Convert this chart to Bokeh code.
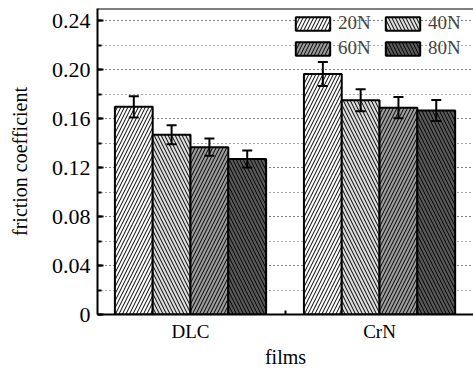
from bokeh.plotting import figure
from bokeh.models import (ColumnDataSource, Range1d, SingleIntervalTicker, FixedTicker,
                          PrintfTickFormatter, Whisker, TeeHead, Legend, LegendItem, Span)
from bokeh.embed import file_html
from bokeh.resources import INLINE

films = ["DLC", "CrN"]
loads = ["20N", "40N", "60N", "80N"]
dlc_mean = [0.1697, 0.1468, 0.1367, 0.1270]
crn_mean = [0.1965, 0.1750, 0.1690, 0.1667]
dlc_err = [0.0087, 0.0078, 0.0071, 0.0070]
crn_err = [0.0098, 0.0090, 0.0087, 0.0086]

fills = ["#ffffff", "#dcdcdc", "#9c9c9c", "#5a5a5a"]
hatches = ["right_diagonal_line", "left_diagonal_line", "right_diagonal_line", "left_diagonal_line"]
offsets = [-0.3, -0.1, 0.1, 0.3]
bar_w = 0.2
FONT = "Liberation Serif"
Y_TOP = 0.25
X_START, X_END = 0.508, 2.497

p = figure(width=473, height=370, output_backend="svg", toolbar_location=None,
           x_range=Range1d(X_START, X_END), y_range=Range1d(0, Y_TOP),
           min_border_left=97, min_border_right=0, min_border_top=8, min_border_bottom=52)

p.border_fill_color = "white"
p.background_fill_color = "white"
p.outline_line_color = None
p.add_layout(Span(location=Y_TOP, dimension="width", line_color="black", line_width=2))
# invisible helpers spanning the full frame (keep the frame fully repainted)
p.add_layout(Span(location=X_END, dimension="height", line_color="white", line_alpha=0))
p.scatter(x=[X_END, X_END, X_START], y=[Y_TOP, 0, Y_TOP], size=1, alpha=0)

items = {}
for i, ld in enumerate(loads):
    xs = [k + 1 + offsets[i] for k in range(len(films))]
    means = [dlc_mean[i], crn_mean[i]]
    errs = [dlc_err[i], crn_err[i]]
    src = ColumnDataSource(dict(x=xs, top=means,
                                upper=[m + e for m, e in zip(means, errs)],
                                lower=[m - e for m, e in zip(means, errs)]))
    r = p.vbar(x="x", top="top", width=bar_w, bottom=0, source=src,
               fill_color=fills[i], line_color="black", line_width=2,
               hatch_pattern=hatches[i], hatch_color="black", hatch_scale=7, hatch_weight=1)
    items[ld] = LegendItem(label=ld, renderers=[r])
    w = Whisker(base="x", upper="upper", lower="lower", source=src, level="overlay",
                line_width=2, line_color="black",
                upper_head=TeeHead(size=10, line_width=2, line_color="black"),
                lower_head=TeeHead(size=10, line_width=2, line_color="black"))
    p.add_layout(w)

p.yaxis.ticker = SingleIntervalTicker(interval=0.04, num_minor_ticks=2)
p.yaxis.formatter = PrintfTickFormatter(format="%.2f")
p.yaxis.major_label_overrides = {0: "0"}
p.yaxis.axis_label = "friction coefficient"
p.ygrid.ticker = SingleIntervalTicker(interval=0.04, num_minor_ticks=2)
p.ygrid.grid_line_color = "#555555"
p.ygrid.grid_line_dash = "1 3"
p.ygrid.minor_grid_line_color = "#555555"
p.ygrid.minor_grid_line_dash = "1 3"
p.xgrid.grid_line_color = None

p.xaxis.ticker = FixedTicker(ticks=[1, 2], minor_ticks=[1.5])
p.xaxis.major_label_overrides = {1: "DLC", 2: "CrN"}
p.xaxis.axis_label = "films"

for ax in (p.xaxis[0], p.yaxis[0]):
    ax.axis_line_width = 2
    ax.axis_line_color = "black"
    ax.major_tick_out = 0
    ax.minor_tick_out = 0
    ax.major_tick_line_width = 2
    ax.minor_tick_line_width = 2
    ax.major_label_text_font = FONT
    ax.major_label_text_color = "black"
    ax.axis_label_text_font = FONT
    ax.axis_label_text_font_style = "normal"
    ax.axis_label_text_color = "black"

p.yaxis.major_label_text_font_size = "22px"
p.yaxis.axis_label_text_font_size = "20px"
p.xaxis.major_label_text_font_size = "19px"
p.xaxis.axis_label_text_font_size = "20px"

p.yaxis.major_tick_in = 6
p.yaxis.minor_tick_in = 4
p.yaxis.major_label_standoff = 7
p.yaxis.axis_label_standoff = 18
p.xaxis.major_tick_in = 0
p.xaxis.minor_tick_in = 4
p.xaxis.major_label_standoff = 6
p.xaxis.axis_label_standoff = 1

order = ["20N", "60N", "40N", "80N"]
legend = Legend(items=[items[k] for k in order], ncols=2, location=(194, 255),
                glyph_width=43, glyph_height=17, label_standoff=4, label_width=40,
                spacing=3, padding=0, margin=0,
                background_fill_alpha=0, border_line_alpha=0,
                label_text_font=FONT, label_text_font_size="19px")
p.add_layout(legend, "center")

open("out.html", "w").write(file_html(p, INLINE))
